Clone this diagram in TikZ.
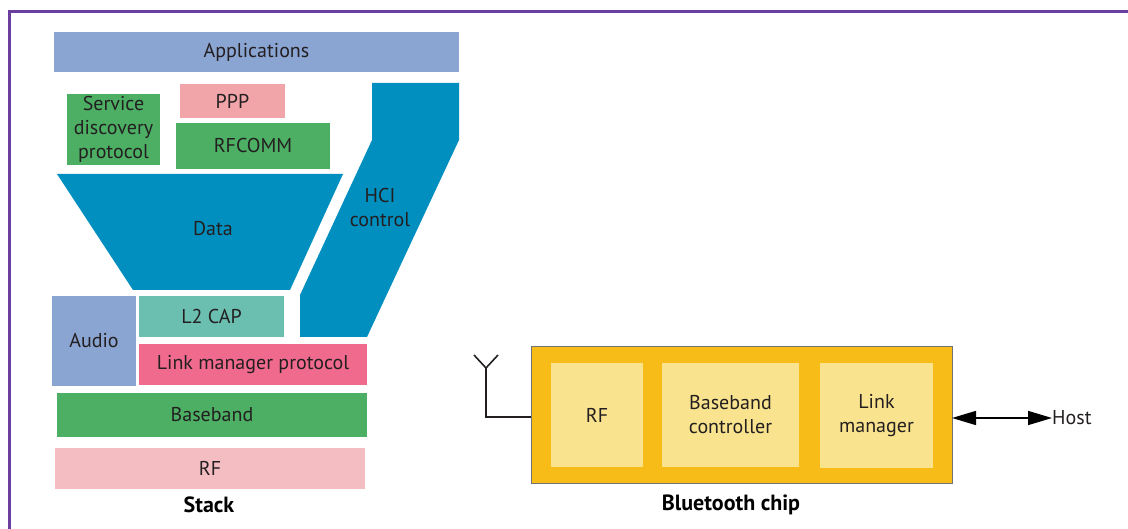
\documentclass[tikz,border=0pt]{standalone}
\usepackage{fontspec}
\setmainfont{PT Sans}
\usetikzlibrary{arrows.meta}
\definecolor{frameP}{HTML}{6B3FA0}
\definecolor{appB}{HTML}{8BA5D3}
\definecolor{pppP}{HTML}{F2A5A8}
\definecolor{grn}{HTML}{4CAF64}
\definecolor{hciB}{HTML}{008FBE}
\definecolor{lcap}{HTML}{6ABFB0}
\definecolor{lmp}{HTML}{EF6A8D}
\definecolor{rfP}{HTML}{F4BDC1}
\definecolor{chipO}{HTML}{F7BC17}
\definecolor{chipI}{HTML}{F9E38E}
\definecolor{txt}{HTML}{231F20}
\tikzset{
  blk/.style={anchor=north west, inner sep=0pt, outer sep=0pt, align=center,
    text=txt, font=\fontsize{20}{24}\selectfont},
  lbl/.style={inner sep=0pt, align=center, text=txt, font=\fontsize{20}{24}\selectfont},
  caplbl/.style={inner sep=0pt, text=black, font=\fontsize{22}{24}\selectfont\bfseries},
}
\begin{document}
\begin{tikzpicture}[x=1pt,y=-1pt]
\useasboundingbox (0,0) rectangle (1128,529);
% frame
\draw[frameP, line width=2.2pt] (1128,11.5) -- (9.5,11.5) -- (9.5,529);
% stack
\node[blk, fill=appB, minimum width=405pt, minimum height=40pt] (app) at (54,32) {Applications};
\node[blk, fill=pppP, minimum width=105pt, minimum height=34pt] (ppp) at (180,84) {PPP};
\node[blk, fill=grn, minimum width=93pt, minimum height=71pt] (sdp) at (67,94) {Service\\discovery\\protocol};
\node[blk, fill=grn, minimum width=154pt, minimum height=46pt] (rfcomm) at (176,123) {RFCOMM};
\fill[hciB] (57,174) -- (343,174) -- (290,290) -- (133,290) -- cycle;
\node[lbl] (data) at (213,229) {Data};
\fill[hciB] (372,83) -- (459,83) -- (459,140) -- (367,337) -- (300,337) -- (300,295) -- (372,140) -- cycle;
\node[lbl] (hci) at (380,208) {HCI\\control};
\node[blk, fill=lcap, minimum width=145pt, minimum height=41pt] (l2cap) at (139,296) {L2 CAP};
\node[blk, fill=appB, minimum width=84pt, minimum height=90pt] (audio) at (52,296) {Audio};
\node[blk, fill=lmp, minimum width=228pt, minimum height=41pt] (lmpn) at (139,344) {Link manager protocol};
\node[blk, fill=grn, minimum width=310pt, minimum height=44pt] (bb) at (57,393) {Baseband};
\node[blk, fill=rfP, minimum width=310pt, minimum height=41pt] (rf) at (55,448) {RF};
\node[caplbl] (stack) at (209,505) {Stack};
% chip
\node[blk, fill=chipO, draw=black!55, line width=0.6pt, minimum width=421pt, minimum height=137pt] (chip) at (531,346) {};
\node[blk, fill=chipI, minimum width=92pt, minimum height=104pt] (crf) at (551,363) {RF};
\node[blk, fill=chipI, minimum width=137pt, minimum height=104pt] (cbb) at (662,363) {Baseband\\controller};
\node[blk, fill=chipI, minimum width=113pt, minimum height=105pt] (clm) at (820,363) {Link\\manager};
\node[caplbl] (btc) at (731,505) {Bluetooth chip};
% antenna
\coordinate (ant) at (486,368);
\draw[txt, line width=1.6pt] (chip.west |- 0,417) -- (486,417) -- (ant);
\draw[txt, line width=1.6pt] (474,355) -- (ant) -- (498,355);
% host
\node[lbl, anchor=west] (host) at (1052,418) {Host};
\draw[black, line width=1.6pt, {Triangle[length=24pt,width=14pt]}-{Triangle[length=24pt,width=14pt]}] (chip.east |- 0,418) -- (host.west);
\end{tikzpicture}
\end{document}
